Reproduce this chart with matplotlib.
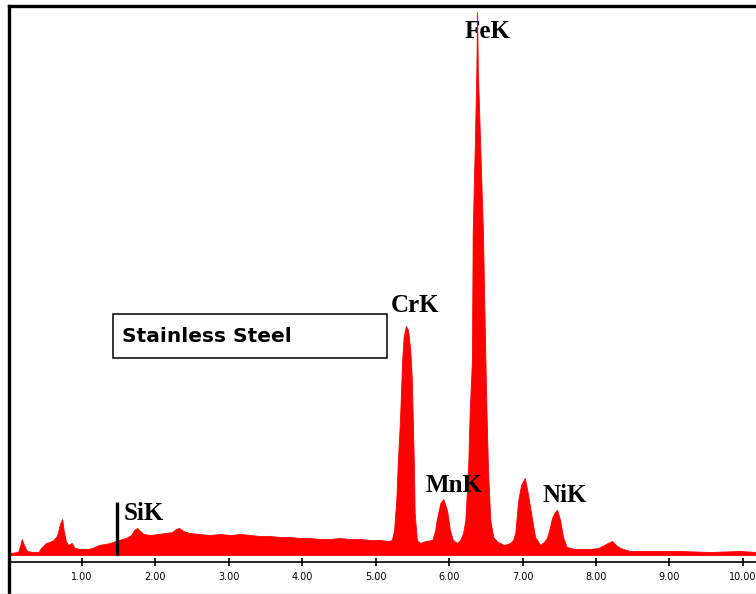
import numpy as np
import matplotlib
matplotlib.use('Agg')
import matplotlib.pyplot as plt
from matplotlib.patches import Rectangle
from matplotlib.lines import Line2D

# EDS spectrum, energy (keV) vs counts (arbitrary units)
energy = [0.01, 0.13, 0.16, 0.18, 0.21, 0.25, 0.33, 0.41, 0.44, 0.51, 0.56, 0.61,
          0.65, 0.67, 0.70, 0.73, 0.75, 0.78, 0.81, 0.86, 0.90, 0.97, 1.08, 1.14,
          1.23, 1.31, 1.38, 1.46, 1.50, 1.60, 1.67, 1.71, 1.75, 1.79, 1.84, 1.93,
          2.03, 2.14, 2.23, 2.28, 2.32, 2.38, 2.46, 2.59, 2.74, 2.88, 3.02, 3.15,
          3.29, 3.42, 3.56, 3.70, 3.83, 3.97, 4.10, 4.24, 4.38, 4.51, 4.65, 4.79,
          4.92, 5.06, 5.17, 5.22,
          5.25, 5.28, 5.30, 5.33, 5.36, 5.38, 5.41, 5.44, 5.47, 5.49, 5.52, 5.53,
          5.56, 5.60, 5.68, 5.77,
          5.81, 5.83, 5.88, 5.92, 5.97, 6.01, 6.05, 6.11,
          6.15, 6.19, 6.22, 6.24, 6.26, 6.28, 6.31, 6.32, 6.35, 6.37, 6.38, 6.39,
          6.42, 6.46, 6.49, 6.51, 6.53, 6.56, 6.60, 6.66, 6.75, 6.83,
          6.87, 6.90, 6.94, 6.98, 7.03, 7.07, 7.13, 7.17, 7.24,
          7.29, 7.33, 7.37, 7.40, 7.44, 7.47, 7.51, 7.55, 7.60, 7.71, 7.92, 8.03,
          8.11, 8.16, 8.22, 8.27, 8.33, 8.46, 8.73, 9.14, 9.55, 9.96, 10.18]
counts = [2, 3, 10, 16, 10, 4, 3, 3, 7, 12, 13, 15,
          18, 22, 31, 36, 25, 14, 10, 12, 7, 6, 6, 7,
          10, 11, 12, 14, 15, 17, 20, 25, 27, 24, 21, 20,
          21, 22, 23, 26, 27, 24, 22, 21, 20, 21, 20, 21,
          20, 19, 19, 18, 18, 17, 17, 16, 16, 17, 16, 16,
          15, 15, 14, 15,
          25, 55, 92, 135, 195, 218, 229, 225, 205, 178, 88, 42,
          15, 12, 14, 15,
          25, 35, 52, 56, 45, 25, 15, 12,
          15, 22, 35, 62, 92, 145, 195, 322, 413, 485, 543, 485,
          415, 322, 205, 138, 82, 35, 18, 13, 10, 12,
          15, 22, 55, 70, 77, 62, 35, 18, 10,
          13, 17, 27, 37, 43, 45, 35, 18, 8, 6, 6, 7,
          10, 12, 14, 10, 7, 4, 4, 4, 3, 4, 3]

peak_labels = ["FeK", "CrK", "MnK", "NiK", "SiK"]
label_x = [6.515, 5.534, 6.065, 7.577, 1.844]
label_y = [524, 250, 69, 59, 42]

si_marker_x = 1.477
si_marker_top = 53

tick_pos = [1, 2, 3, 4, 5, 6, 7, 8, 9, 10]
tick_text = ["%.2f" % t for t in tick_pos]

box_text = "Stainless Steel"

fig = plt.figure(figsize=(7.56, 5.94), dpi=100)
ax = fig.add_axes([8.56 / 756, 0.0, 1 - 8.56 / 756, 1 - 6 / 594])

ax.fill_between(energy, 0, counts, color="#ff0000", linewidth=0.6, edgecolor="#ff0000")
ax.set_xlim(0, 10.178)
ax.set_ylim(-39, 549)

# axis line sits a bit below the spectrum baseline
ax.spines['bottom'].set_position(('data', -7))
ax.spines['bottom'].set_linewidth(1.2)
ax.spines['right'].set_visible(False)
ax.spines['left'].set_linewidth(2.4)
ax.spines['top'].set_linewidth(2.4)

ax.set_xticks(tick_pos, tick_text)
ax.tick_params(axis='x', direction='inout', length=6, width=1.2, pad=4.5,
               labelsize=7)
ax.set_yticks([])

for lab, lx, ly in zip(peak_labels, label_x, label_y):
    ax.text(lx, ly, lab, ha='center', va='center', fontsize=18,
            fontweight='bold', family='Liberation Serif', zorder=5)

ax.plot([si_marker_x, si_marker_x], [0, si_marker_top], color='black', lw=2.4,
        solid_capstyle='butt')

ax.add_patch(Rectangle((1.422, 197), 3.731, 44, fill=False, edgecolor='black',
                       lw=1.1, zorder=4))
ax.text(1.54, 219, box_text, ha='left', va='center', fontsize=14.5,
        fontweight='bold', family='DejaVu Sans')

fig.add_artist(Line2D([0, 1], [0.5 / 594, 0.5 / 594], color='#bbbbbb', lw=1))

plt.savefig("out.png", dpi=100)
